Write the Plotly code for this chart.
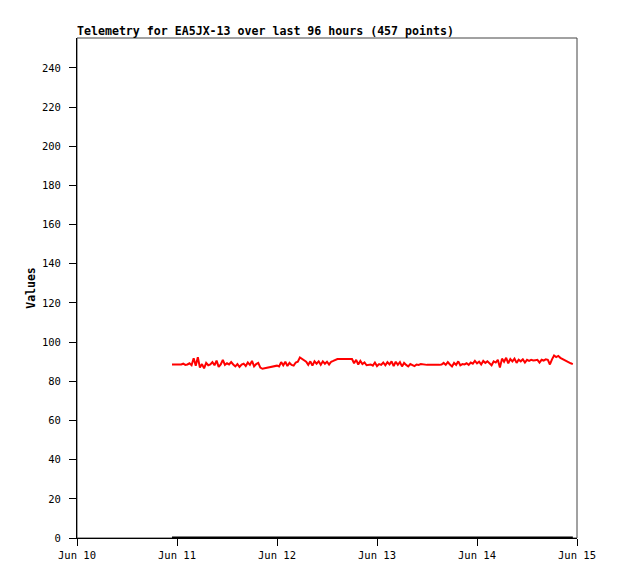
import plotly.graph_objects as go
from datetime import datetime, timedelta

# hours since Jun 10 00:00
hours = [
    22.8, 23.0, 23.5, 24.0, 24.5, 25.0, 25.5, 26.0, 26.5, 27.0, 27.5,
    28.0, 28.5, 29.0, 29.5, 30.0, 30.5, 31.0, 31.5, 32.0, 32.5,
    33.0, 33.5, 34.0, 34.5, 35.0, 35.5, 36.0, 36.5, 37.0, 37.5,
    38.0, 38.5, 39.0, 39.5, 40.0, 40.5, 41.0, 41.5, 42.0, 42.5,
    43.0, 43.5, 44.0, 44.5, 45.0, 45.5, 46.0, 46.5, 47.0, 47.5,
    48.0, 48.5, 49.0, 49.5, 50.0, 50.5, 51.0, 51.5, 52.0, 52.5,
    53.0, 53.5, 54.0, 54.5, 55.0, 55.5, 56.0, 56.5, 57.0, 57.5,
    58.0, 58.5, 59.0, 59.5, 60.0, 60.5, 61.0, 61.5, 62.0, 62.5,
    63.0, 63.5, 64.0, 64.5, 65.0, 65.5, 66.0, 66.5, 67.0, 67.5,
    68.0, 68.5, 69.0, 69.5, 70.0, 70.5, 71.0, 71.5, 72.0, 72.5,
    73.0, 73.5, 74.0, 74.5, 75.0, 75.5, 76.0, 76.5, 77.0, 77.5,
    78.0, 78.5, 79.0, 79.5, 80.0, 80.5, 81.0, 81.5, 82.0, 82.5,
    83.0, 83.5, 84.0, 84.5, 85.0, 85.5, 86.0, 86.5, 87.0, 87.5,
    88.0, 88.5, 89.0, 89.5, 90.0, 90.5, 91.0, 91.5, 92.0, 92.5,
    93.0, 93.5, 94.0, 94.5, 95.0, 95.5, 96.0, 96.5, 97.0, 97.5,
    98.0, 98.5, 99.0, 99.5, 100.0, 100.5, 101.0, 101.5, 102.0, 102.5,
    103.0, 103.5, 104.0, 104.5, 105.0, 105.5, 106.0, 106.5, 107.0, 107.5,
    108.0, 108.5, 109.0, 109.5, 110.0, 110.5, 111.0, 111.5, 112.0, 112.5,
    113.0, 113.5, 114.0, 114.5, 115.0, 115.5, 116.0, 116.5, 117.0, 117.5,
    118.0, 118.5, 119.0,
]

values = [
    88.6, 88.6, 88.6, 88.4, 88.6, 88.6, 89.0, 88.4, 88.6, 89.2, 88.2,
    91.8, 88.0, 92.3, 87.0, 88.8, 86.6, 89.4, 88.2, 88.6, 89.8,
    88.2, 90.6, 87.4, 88.6, 91.0, 88.4, 89.2, 88.6, 89.8, 88.6,
    87.6, 88.8, 87.4, 88.6, 89.0, 87.8, 89.6, 88.4, 90.4, 87.6,
    88.8, 89.4, 87.0, 86.4, 86.6, 86.8, 87.0, 87.2, 87.4, 87.6,
    88.0, 87.6, 89.8, 88.2, 90.0, 87.8, 89.4, 88.4, 88.0, 89.6,
    90.0, 92.2, 91.4, 90.4, 90.0, 88.4, 90.2, 88.0, 90.2, 89.0,
    90.2, 88.4, 90.2, 89.0, 90.0, 88.6, 90.0, 90.4, 91.0, 91.4,
    91.4, 91.4, 91.4, 91.4, 91.4, 91.2, 91.4, 89.2, 91.0, 88.6,
    90.4, 88.8, 89.6, 88.2, 88.6, 88.6, 88.0, 89.6, 87.8, 88.8,
    88.4, 89.6, 88.2, 89.8, 88.6, 90.2, 87.8, 90.0, 88.4, 89.8,
    87.6, 89.4, 88.4, 87.6, 88.8, 88.2, 87.8, 88.6, 88.4, 88.8,
    88.6, 88.6, 88.4, 88.4, 88.4, 88.4, 88.4, 88.2, 88.4, 88.6,
    89.4, 88.4, 89.8, 88.6, 87.6, 89.4, 88.4, 90.2, 88.2, 88.8,
    88.6, 89.2, 88.4, 89.6, 89.0, 90.4, 89.2, 90.0, 88.6, 90.4,
    89.4, 90.2, 89.0, 88.2, 90.2, 89.6, 91.0, 87.0, 91.6, 90.0,
    92.0, 89.2, 91.4, 90.2, 91.6, 89.4, 91.0, 90.2, 91.2, 89.6,
    91.0, 90.4, 91.0, 90.6, 90.8, 91.0, 89.6, 91.0, 90.6, 91.2,
    91.0, 88.6, 91.2, 93.2, 92.4, 93.0, 92.0, 91.4, 90.6, 90.0,
    89.6, 89.2, 88.8,
]

zero_values = [0.0 for _ in hours]

x_tick_labels = ["Jun 10", "Jun 11", "Jun 12", "Jun 13", "Jun 14", "Jun 15"]
y_ticks = [0, 20, 40, 60, 80, 100, 120, 140, 160, 180, 200, 220, 240]

base = datetime(2024, 6, 10)
times = [base + timedelta(hours=h) for h in hours]
tick_times = [base + timedelta(days=i) for i in range(len(x_tick_labels))]

fig = go.Figure()
fig.add_trace(go.Scatter(x=times, y=zero_values, mode="lines",
                         line=dict(color="black", width=3), hoverinfo="skip"))
fig.add_trace(go.Scatter(x=times, y=values, mode="lines",
                         line=dict(color="#ff0000", width=2)))

mono = "DejaVu Sans Mono"
W, H = 610, 571
fig.update_layout(
    width=W, height=H,
    margin=dict(l=69, r=41, t=30, b=41),
    paper_bgcolor="white", plot_bgcolor="white",
    showlegend=False,
    title=dict(text="<b>Telemetry for EA5JX-13 over last 96 hours (457 points)</b>",
               x=69/W, xanchor="left", xref="container",
               y=1 - 23/H, yanchor="middle", yref="container",
               font=dict(family=mono, size=11.6, color="black")),
    xaxis=dict(range=[tick_times[0], tick_times[-1]],
               tickvals=tick_times, ticktext=x_tick_labels,
               ticks="outside", ticklen=7, tickcolor="black",
               showline=True, linecolor="black", linewidth=1,
               showgrid=False, zeroline=False,
               tickfont=dict(family=mono, size=10.5, color="black")),
    yaxis=dict(range=[0, 255.3], tickvals=y_ticks,
               ticks="outside", ticklen=7, tickcolor="black",
               showline=True, linecolor="black", linewidth=1,
               showgrid=False, zeroline=False, ticklabelstandoff=6,
               tickfont=dict(family=mono, size=10.5, color="black"),
               title=dict(text="<b>Values</b>", standoff=3,
                          font=dict(family=mono, size=11.5, color="black"))),
    shapes=[dict(type="rect", xref="paper", yref="paper", x0=0, x1=1, y0=0, y1=1,
                 line=dict(color="#444444", width=1), layer="below")],
)

fig.write_html("out.html")
